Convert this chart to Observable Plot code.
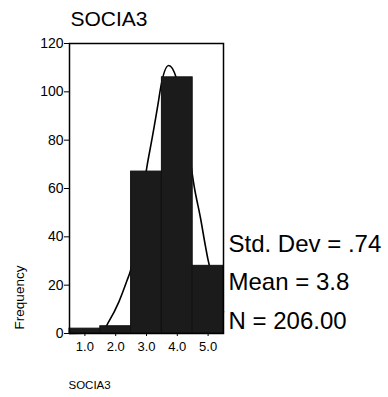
<!DOCTYPE html>
<html>
<head>
<meta charset="utf-8">
<script src="https://cdn.jsdelivr.net/npm/d3@7"></script>
<script src="https://cdn.jsdelivr.net/npm/@observablehq/plot@0.6"></script>
<style>
  html, body { margin: 0; padding: 0; background: #fff; }
</style>
</head>
<body>
<div id="chart"></div>
<script>
// ---- data ----
const title = "SOCIA3";
const xLabel = "SOCIA3";
const yLabel = "Frequency";
const binCenters = [1, 2, 3, 4, 5];
const binWidth = 1;
const counts = [2, 3, 67, 106, 28];
const xTicks = [1, 2, 3, 4, 5];
const yTicks = [0, 20, 40, 60, 80, 100, 120];
const stats = ["Std. Dev = .74", "Mean = 3.8", "N = 206.00"];
// normal curve, points
const curveX = [0.5, 1.3, 1.6, 1.78, 2.1, 2.37, 2.48, 2.75, 3.02, 3.18, 3.4, 3.45, 3.72, 3.96, 4.25, 4.56, 4.75, 4.92, 4.99, 5.2, 5.5];
const curveY = [0, 0.3, 1.5, 5, 13, 22, 26, 46, 69.5, 80.6, 97, 101, 110.9, 106, 87, 60, 48, 35.7, 31, 20, 9];

const bars = binCenters.map((c, i) => ({x1: c - binWidth / 2, x2: c + binWidth / 2, count: counts[i]}));
const curve = curveX.map((x, i) => ({x, y: curveY[i]}));

const font = "'Liberation Sans', Arial, Helvetica, sans-serif";

const chart = Plot.plot({
  width: 388,
  height: 397,
  marginLeft: 69,
  marginRight: 165,
  marginTop: 43,
  marginBottom: 64,
  style: {fontFamily: font, color: "black", background: "white", overflow: "visible"},
  x: {domain: [0.5, 5.5]},
  y: {domain: [0, 120]},
  marks: [
    Plot.line(curve, {x: "x", y: "y", curve: "monotone-x", stroke: "black", strokeWidth: 1.6}),
    Plot.rectY(bars, {x1: "x1", x2: "x2", y: "count", fill: "#1b1b1b", stroke: "#111", strokeWidth: 1}),
    Plot.frame({stroke: "black", strokeWidth: 1.5}),
    Plot.axisY({ticks: yTicks, tickSize: 5, tickPadding: 1, fontSize: 14, label: null, stroke: "black"}),
    Plot.axisX({ticks: xTicks, tickFormat: d3.format(".1f"), tickSize: 3, tickPadding: 5, fontSize: 13, label: null, stroke: "black"}),
    Plot.text([title], {frameAnchor: "top-left", text: d => d, textAnchor: "start", lineAnchor: "bottom", dx: 1, dy: -18, fontSize: 21}),
    Plot.text([stats.join("\n")], {frameAnchor: "bottom-right", text: d => d, textAnchor: "start", lineAnchor: "bottom", lineHeight: 1.6, dx: 5, dy: -5, fontSize: 24}),
    Plot.text([xLabel], {frameAnchor: "bottom-left", text: d => d, textAnchor: "start", lineAnchor: "bottom", dx: -1, dy: 55, fontSize: 11.5}),
    Plot.text([yLabel], {frameAnchor: "bottom-left", text: d => d, textAnchor: "middle", lineAnchor: "middle", rotate: -90, dx: -50, dy: -36, fontSize: 13.5})
  ]
});
document.getElementById("chart").appendChild(chart);
</script>
</body>
</html>
